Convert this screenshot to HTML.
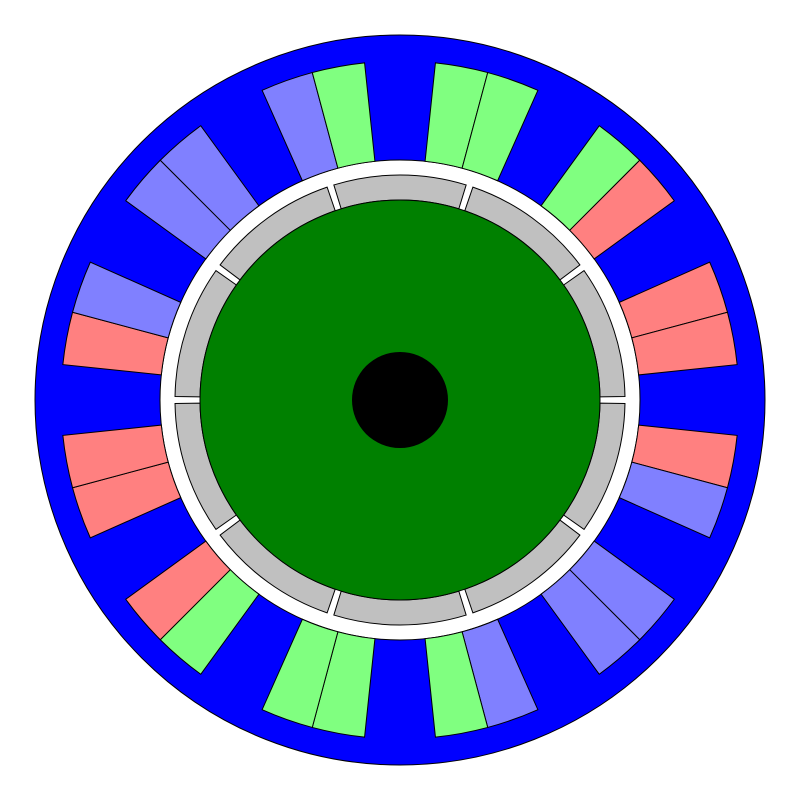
<!DOCTYPE html>
<html><head><meta charset="utf-8"><style>body{margin:0;background:#fff}svg{display:block}</style></head>
<body>
<svg id="c" width="800" height="800" viewBox="0 0 800 800" xmlns="http://www.w3.org/2000/svg"></svg>
<script>
const slotAngles = [15,45,75,105,135,165,195,225,255,285,315,345];
const slotPhases = [["A","A"],["A","C"],["C","C"],["C","B"],["B","B"],["B","A"],["A","A"],["A","C"],["C","C"],["C","B"],["B","B"],["B","A"]];
const phaseColors = {A:"#80ff80",B:"#8080ff",C:"#ff8080"};
const magnetAngles = [0,36,72,108,144,180,216,252,288,324];
const cx=400, cy=400, Rs=365, Rb=240, Rsi=240, Rso=339, Rm=225, Rr=200, Rsh=48;
const svg=document.getElementById('c'), NS="http://www.w3.org/2000/svg";
function pt(r,a){const t=a*Math.PI/180;return [cx+r*Math.sin(t),cy-r*Math.cos(t)];}
function sector(r1,r2,a1,a2){const p1=pt(r1,a1),p2=pt(r2,a1),p3=pt(r2,a2),p4=pt(r1,a2);
return `M${p1}L${p2}A${r2},${r2} 0 0 1 ${p3}L${p4}A${r1},${r1} 0 0 0 ${p1}Z`;}
function add(tag,attrs){const e=document.createElementNS(NS,tag);for(const k in attrs)e.setAttribute(k,attrs[k]);svg.appendChild(e);return e;}
let e=add('path',{d:`M${cx-Rs},${cy}a${Rs},${Rs} 0 1 0 ${2*Rs},0a${Rs},${Rs} 0 1 0 ${-2*Rs},0M${cx-Rb},${cy}a${Rb},${Rb} 0 1 1 ${2*Rb},0a${Rb},${Rb} 0 1 1 ${-2*Rb},0Z`,fill:'#0000ff','fill-rule':'evenodd',stroke:'#000','stroke-width':1});


slotAngles.forEach((a,i)=>{
  [0,1].forEach(h=>{
    const a1=a-9+9*h, a2=a1+9;
    const p=add('path',{d:sector(Rsi,Rso,a1,a2),fill:phaseColors[slotPhases[i][h]],stroke:'#000','stroke-width':1});
    
    
  });
});
magnetAngles.forEach((a,i)=>{
  const p=add('path',{d:sector(Rr,Rm,a-17.1,a+17.1),fill:'#c0c0c0',stroke:'#000','stroke-width':1});
  
  
});
e=add('circle',{cx:cx,cy:cy,r:Rr,fill:'#008000',stroke:'#000','stroke-width':1});


e=add('circle',{cx:cx,cy:cy,r:Rsh,fill:'#000'});


</script>
</body></html>
